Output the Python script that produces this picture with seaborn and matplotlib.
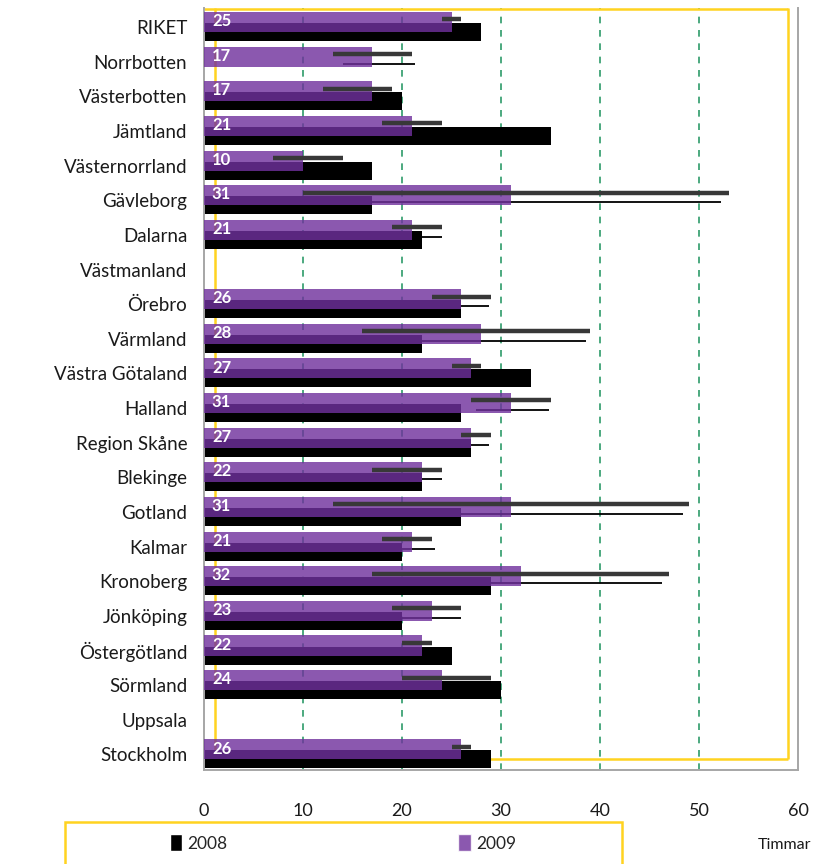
import numpy as np
import pandas as pd
import matplotlib
matplotlib.use("Agg")
import matplotlib.pyplot as plt
from matplotlib.patches import Rectangle, Patch
import seaborn as sns

# Hours per region, 2008 vs 2009 (NaN = no data reported)
nan = np.nan
regions = ["RIKET", "Norrbotten", "Västerbotten", "Jämtland", "Västernorrland",
           "Gävleborg", "Dalarna", "Västmanland", "Örebro", "Värmland",
           "Västra Götaland", "Halland", "Region Skåne", "Blekinge", "Gotland",
           "Kalmar", "Kronoberg", "Jönköping", "Östergötland", "Sörmland",
           "Uppsala", "Stockholm"]
hours_2008 = [28, nan, 20, 35, 17, 17, 22, nan, 26, 22, 33, 26, 27, 22, 26,
              20, 29, 20, 25, 30, nan, 29]
hours_2009 = [25, 17, 17, 21, 10, 31, 21, nan, 26, 28, 27, 31, 27, 22, 31,
              21, 32, 23, 22, 24, nan, 26]
# Confidence interval of 2009 values
ci_low_2009 = [24, 13, 12, 18, 7, 10, 19, nan, 23, 16, 25, 27, 26, 17, 13,
               18, 17, 19, 20, 20, nan, 25]
ci_high_2009 = [26, 21, 19, 24, 14, 53, 24, nan, 29, 39, 28, 35, 29, 24, 49,
                23, 47, 26, 23, 29, nan, 27]
# Shadow line under each interval
shadow_low = [24.5, 14, 13, 19, 8, 11, 20, nan, 24, 17, 26, 27.5, 26.5, 18, 14,
              19, 18, 20, 21, 21, nan, 25.5]
shadow_high = [26, 21.3, 19, 24, 14, 52.2, 24, nan, 28.8, 38.6, 28, 34.8, 28.8,
               24, 48.4, 23.3, 46.3, 26, 23.2, 29, nan, 27]
x_ticks = [0, 10, 20, 30, 40, 50, 60]

PURPLE = "#70319D"
PURPLE_ALPHA = 0.81
YELLOW = "#FFD320"
GRID_GREEN = "#2E9B6A"
SPINE = "#A6A6A6"

sns.set_style("white")
plt.rcParams["font.family"] = ["Lato", "DejaVu Sans"]

idx = np.arange(len(regions))
df = pd.DataFrame({
    "region": regions, "pos": idx,
    "h2008": hours_2008, "h2009": hours_2009,
    "lo": ci_low_2009, "hi": ci_high_2009,
    "slo": shadow_low, "shi": shadow_high,
})

fig = plt.figure(figsize=(8.15, 8.64), dpi=100)
ax = fig.add_axes([204 / 815, 1 - 770 / 864, (798 - 204) / 815, (770 - 8) / 864])

# Grid lines behind the bars
for gx in x_ticks[1:-1]:
    ax.axvline(gx, color=GRID_GREEN, lw=1.2, ls=(0, (4, 4)), zorder=0)

# Yellow plot-area frame
top, bottom = -0.55, 21.14
frame_kw = dict(color=YELLOW, lw=1.8, zorder=0.5, solid_capstyle="butt")
ax.plot([0, 59.0], [top + 0.02, top + 0.02], **frame_kw)
ax.plot([59.0, 59.0], [top, bottom], **frame_kw)
ax.plot([1.1, 59.0], [bottom, bottom], **frame_kw)
ax.plot([1.1, 1.1], [top, bottom], **frame_kw)

# 2008 bars (lower, black)
d08 = df.dropna(subset=["h2008"]).copy()
d08["y"] = d08["pos"] + 0.145
sns.barplot(data=d08, x="h2008", y="y", orient="y", native_scale=True,
            width=0.52, color="black", saturation=1, errorbar=None, ax=ax,
            linewidth=0, zorder=2)

# Shadow lines of the intervals
d09 = df.dropna(subset=["h2009"]).copy()
ax.hlines(d09["pos"] + 0.06, d09["slo"], d09["shi"], color="black", lw=1.3,
          zorder=2.5)

# 2009 bars (upper, translucent purple)
d09["y"] = d09["pos"] - 0.145
sns.barplot(data=d09, x="h2009", y="y", orient="y", native_scale=True,
            width=0.58, color=PURPLE, saturation=1, alpha=PURPLE_ALPHA,
            errorbar=None, ax=ax, linewidth=0, zorder=3)

# 2009 intervals
ax.hlines(d09["pos"] - 0.22, d09["lo"], d09["hi"], color="#383838", lw=3.2,
          zorder=4)

# Value labels inside the 2009 bars
for p, v in zip(d09["pos"], d09["h2009"]):
    ax.text(0.8, p - 0.17, f"{v:.0f}", color="white", fontsize=12,
            fontweight="bold", ha="left", va="center", zorder=5)

ax.set_xlim(0, 60)
ax.set_ylim(21.45, -0.55)
ax.set_xticks(x_ticks)
ax.set_xticklabels([str(t) for t in x_ticks])
ax.set_yticks(idx)
ax.set_yticklabels(regions)
ax.set_xlabel("")
ax.set_ylabel("")
ax.tick_params(axis="y", length=0, pad=12, labelsize=13.5, labelcolor="#1a1a1a")
ax.tick_params(axis="x", length=5, color=GRID_GREEN, width=1.2, pad=19,
               labelsize=13, labelcolor="#1a1a1a")
ax.spines["top"].set_visible(False)
for s in ("left", "bottom", "right"):
    ax.spines[s].set_color(SPINE)
    ax.spines[s].set_linewidth(1.4)

# Legend inside a yellow box at the bottom
fig.add_artist(Rectangle((65 / 815, -0.05), (622 - 65) / 815, 0.05 + 1 - 822 / 864,
                         transform=fig.transFigure, fill=False,
                         edgecolor=YELLOW, lw=1.8))
handles = [Patch(facecolor="black"),
           Patch(facecolor=PURPLE, alpha=PURPLE_ALPHA)]
fig.legend(handles, ["2008", "2009"], loc="center",
           bbox_to_anchor=(343 / 815, 1 - 843 / 864), ncol=2, frameon=False,
           columnspacing=13.3, handlelength=0.7, handleheight=1.1,
           handletextpad=0.3, fontsize=12.5)
fig.text(811 / 815, 1 - 845 / 864, "Timmar", ha="right", va="center",
         fontsize=11.5, color="#1a1a1a")

fig.savefig("out.png", dpi=100)
